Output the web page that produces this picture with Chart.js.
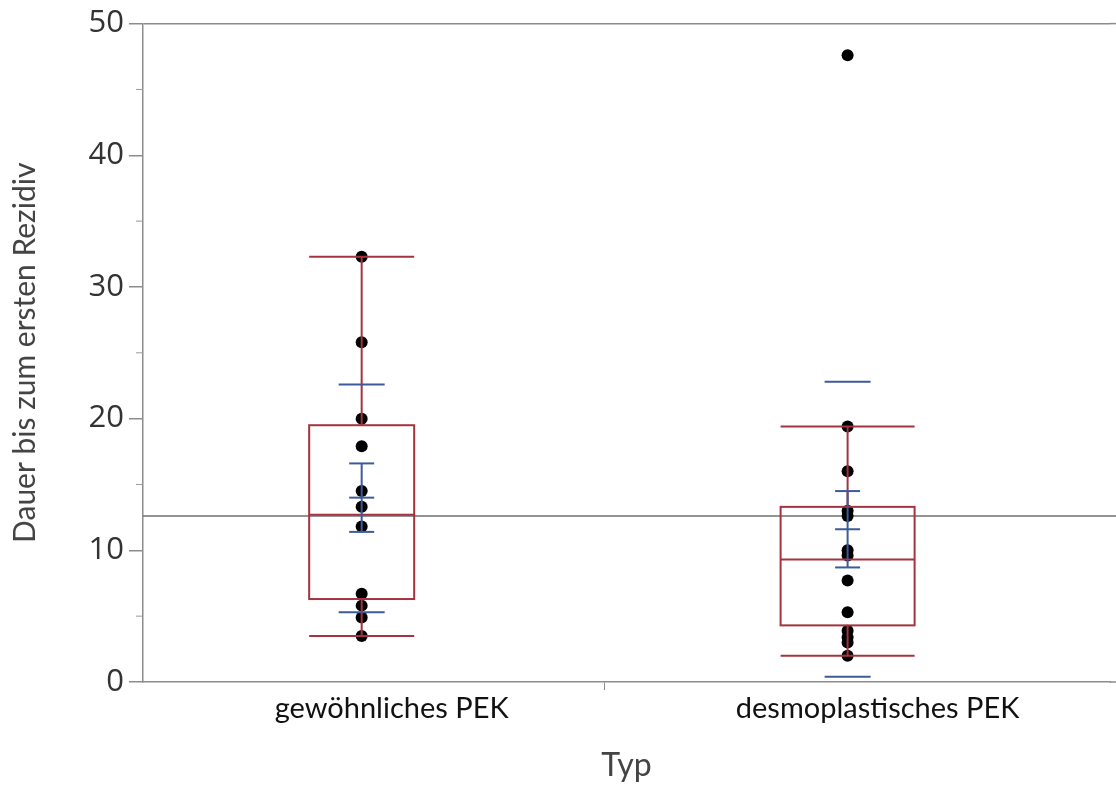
<!DOCTYPE html>
<html>
<head>
<meta charset="utf-8">
<script src="https://cdn.jsdelivr.net/npm/chart.js@4/dist/chart.umd.min.js"></script>
<style>
  body { margin: 0; background: #fff; }
  #wrap { width: 1116px; height: 791px; }
</style>
</head>
<body>
<div id="wrap"><canvas id="chart" width="1116" height="791"></canvas></div>
<script>
// values
const categories = ['gewöhnliches PEK', 'desmoplastisches PEK'];
const pointsGew = [32.3, 25.8, 20.0, 17.9, 14.5, 13.3, 11.8, 6.7, 5.8, 4.9, 3.5];
const pointsDes = [47.6, 19.4, 16.0, 13.0, 12.6, 10.0, 9.6, 7.7, 5.3, 3.9, 3.4, 3.0, 2.0];

const whiskerLow = [3.5, 2.0];
const quartile1 = [6.3, 4.3];
const medians = [12.7, 9.3];
const quartile3 = [19.5, 13.3];
const whiskerHigh = [32.3, 19.4];

const means = [14.0, 11.6];
const ciLow = [11.4, 8.7];
const ciHigh = [16.6, 14.5];
const sdLow = [5.3, 0.4];
const sdHigh = [22.6, 22.8];

const grandMean = 12.6;
const yTicks = [0, 10, 20, 30, 40, 50];
const yMinorTicks = [5, 15, 25, 35, 45];

// drawing sizes (px)
const boxWidths = [105, 134];
const sdWidth = 46;
const capWidth = 25;
const red = '#a3343f';
const blue = '#3d5a99';

function hline(ctx, x1, x2, y) {
  ctx.beginPath(); ctx.moveTo(x1, y); ctx.lineTo(x2, y); ctx.stroke();
}
function vline(ctx, x, y1, y2) {
  ctx.beginPath(); ctx.moveTo(x, y1); ctx.lineTo(x, y2); ctx.stroke();
}

const boxPlot = {
  id: 'boxPlot',
  beforeDatasetsDraw(chart) {
    const {ctx, chartArea, scales: {y}} = chart;
    ctx.save();
    ctx.strokeStyle = '#707070';
    ctx.lineWidth = 1.5;
    hline(ctx, chartArea.left, chart.width, y.getPixelForValue(grandMean));
    // minor ticks on the y axis
    ctx.strokeStyle = '#999';
    ctx.lineWidth = 1;
    yMinorTicks.forEach(v => hline(ctx, chartArea.left - 7, chartArea.left, y.getPixelForValue(v)));
    ctx.restore();
  },
  afterDatasetsDraw(chart) {
    const {ctx, scales: {x, y}} = chart;
    ctx.save();
    categories.forEach((c, i) => {
      const cx = x.getPixelForValue(i);
      const hw = boxWidths[i] / 2;
      ctx.strokeStyle = red;
      ctx.lineWidth = 2;
      ctx.strokeRect(cx - hw, y.getPixelForValue(quartile3[i]), 2 * hw,
        y.getPixelForValue(quartile1[i]) - y.getPixelForValue(quartile3[i]));
      hline(ctx, cx - hw, cx + hw, y.getPixelForValue(medians[i]));
      vline(ctx, cx, y.getPixelForValue(quartile3[i]), y.getPixelForValue(whiskerHigh[i]));
      vline(ctx, cx, y.getPixelForValue(quartile1[i]), y.getPixelForValue(whiskerLow[i]));
      hline(ctx, cx - hw, cx + hw, y.getPixelForValue(whiskerHigh[i]));
      hline(ctx, cx - hw, cx + hw, y.getPixelForValue(whiskerLow[i]));

      ctx.strokeStyle = blue;
      ctx.lineWidth = 2;
      hline(ctx, cx - sdWidth / 2, cx + sdWidth / 2, y.getPixelForValue(sdHigh[i]));
      hline(ctx, cx - sdWidth / 2, cx + sdWidth / 2, y.getPixelForValue(sdLow[i]));
      vline(ctx, cx, y.getPixelForValue(ciLow[i]), y.getPixelForValue(ciHigh[i]));
      hline(ctx, cx - capWidth / 2, cx + capWidth / 2, y.getPixelForValue(ciHigh[i]));
      hline(ctx, cx - capWidth / 2, cx + capWidth / 2, y.getPixelForValue(ciLow[i]));
      hline(ctx, cx - capWidth / 2, cx + capWidth / 2, y.getPixelForValue(means[i]));
    });
    ctx.restore();
  },
  afterDraw(chart) {
    // the frame runs on to the right edge of the picture
    const {ctx, chartArea, scales: {x, y}} = chart;
    ctx.save();
    ctx.strokeStyle = '#8c8c8c';
    ctx.lineWidth = 1.5;
    hline(ctx, chartArea.right, chart.width, y.getPixelForValue(50));
    hline(ctx, chartArea.right, chart.width, y.getPixelForValue(0));
    ctx.restore();
  }
};

const chart = new Chart(document.getElementById('chart'), {
  type: 'scatter',
  data: {
    datasets: [
      { data: pointsGew.map(v => ({x: 0, y: v})) },
      { data: pointsDes.map(v => ({x: 1, y: v})) }
    ]
  },
  options: {
    responsive: false,
    animation: false,
    layout: { padding: { top: 22, right: 0, left: 0, bottom: 0 } },
    elements: {
      point: { radius: 6, backgroundColor: '#000', borderWidth: 0, hoverRadius: 6 }
    },
    plugins: { legend: { display: false }, tooltip: { enabled: false } },
    scales: {
      x: {
        type: 'linear',
        min: -0.45,
        max: 1.54,
        afterBuildTicks: axis => { axis.ticks = [0, 0.5, 1].map(v => ({value: v})); },
        afterFit: axis => { axis.height = 109; },
        border: { color: '#8c8c8c', width: 1.5 },
        grid: {
          drawOnChartArea: false,
          tickLength: 8,
          tickColor: c => (c.tick && c.tick.value === 0.5 ? '#8c8c8c' : 'rgba(0,0,0,0)')
        },
        ticks: {
          padding: 1,
          labelOffset: 30,
          maxRotation: 0,
          autoSkip: false,
          color: '#111',
          font: { family: 'Lato', size: 29 },
          callback: v => (Number.isInteger(v) ? categories[v] : '')
        },
        title: {
          display: true,
          text: 'Typ',
          color: '#444',
          font: { family: 'Lato', size: 32 },
          padding: { top: 0, bottom: 6 }
        }
      },
      y: {
        min: 0,
        max: 50,
        afterBuildTicks: axis => { axis.ticks = yTicks.map(v => ({value: v})); },
        afterFit: axis => { axis.width = 143; },
        border: { color: '#8c8c8c', width: 1.5 },
        grid: {
          tickLength: 14,
          tickColor: '#8c8c8c',
          color: c => (c.tick && c.tick.value === 50 ? '#8c8c8c' : 'rgba(0,0,0,0)'),
          lineWidth: 1.5
        },
        ticks: {
          padding: 5,
          color: '#333',
          font: { family: 'Open Sans', size: 31 }
        },
        title: {
          display: true,
          text: 'Dauer bis zum ersten Rezidiv',
          color: '#444',
          font: { family: 'Lato', size: 30 },
          padding: { top: 7, bottom: 0 }
        }
      }
    }
  },
  plugins: [boxPlot]
});
</script>
</body>
</html>
